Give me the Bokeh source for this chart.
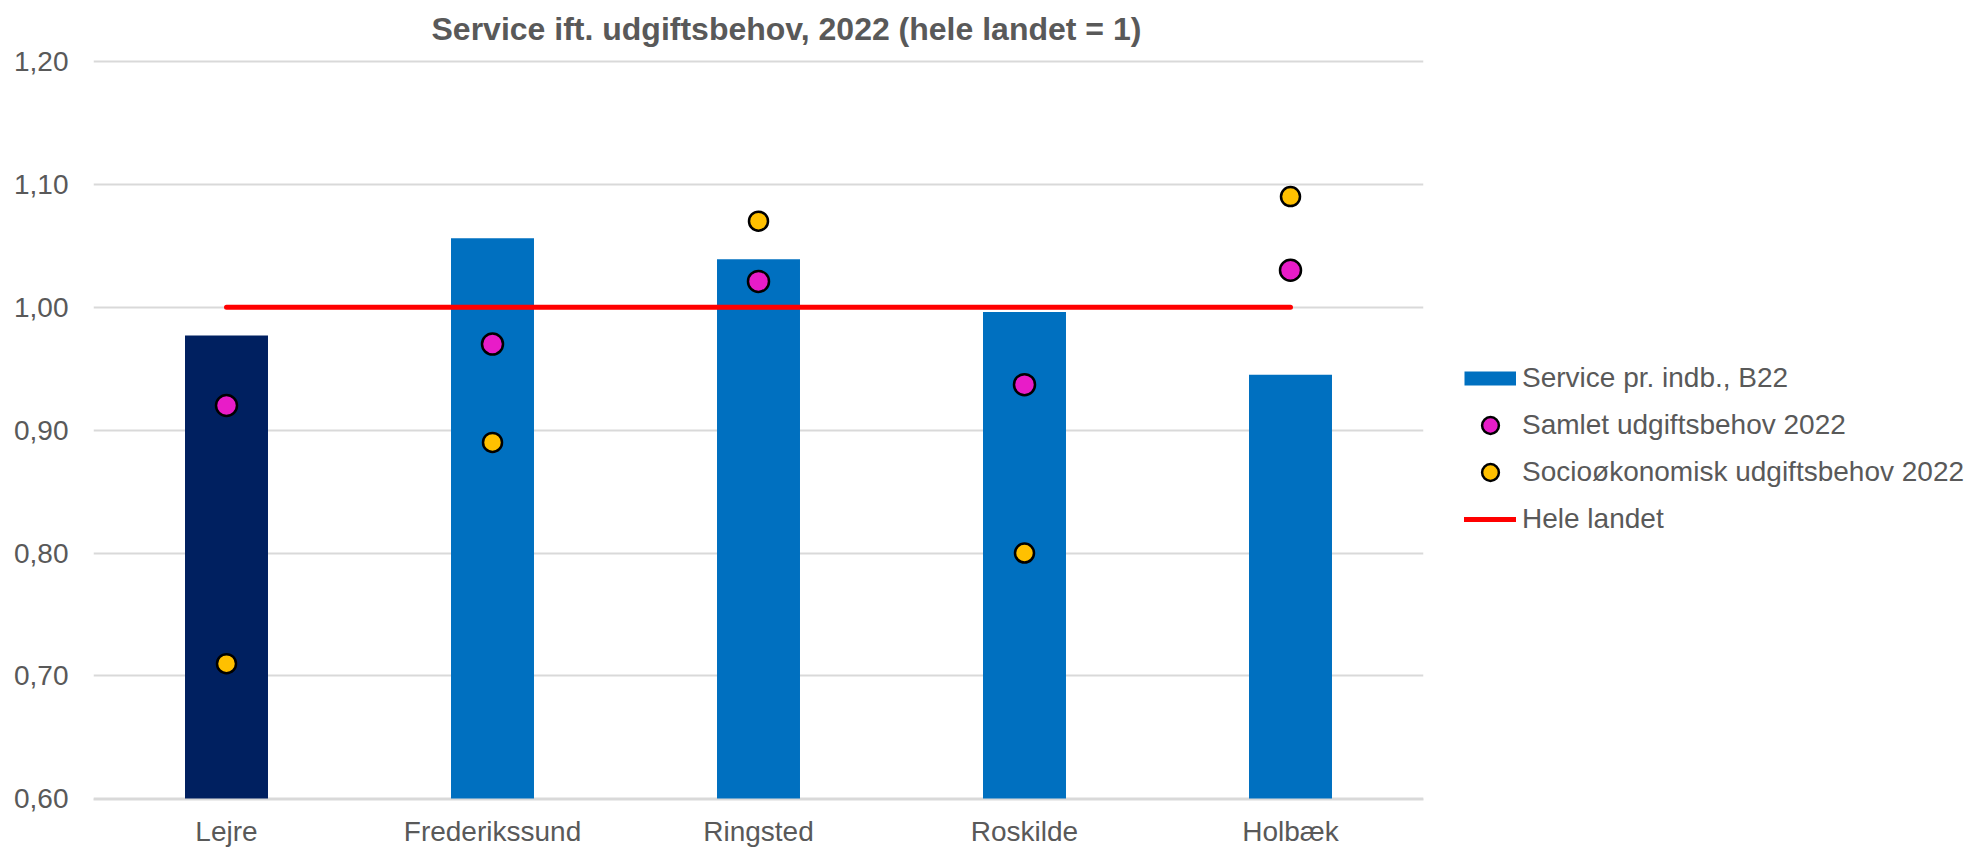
from bokeh.plotting import figure
from bokeh.models import (Range1d, FactorRange, ColumnDataSource, Legend, LegendItem,
                          CustomJSTickFormatter, FixedTicker)
from bokeh.embed import file_html
from bokeh.resources import INLINE

# ---- data ----
kommuner = ["Lejre", "Frederikssund", "Ringsted", "Roskilde", "Holbæk"]
service = [0.977, 1.056, 1.039, 0.996, 0.945]          # Service pr. indb., B22
samlet = [0.920, 0.970, 1.021, 0.937, 1.030]           # Samlet udgiftsbehov 2022
socio = [0.710, 0.890, 1.070, 0.800, 1.090]            # Socioøkonomisk udgiftsbehov 2022
hele_landet = [1.00, 1.00, 1.00, 1.00, 1.00]           # Hele landet
bar_colors = ["#002060", "#0070C0", "#0070C0", "#0070C0", "#0070C0"]
y_ticks = [0.60, 0.70, 0.80, 0.90, 1.00, 1.10, 1.20]

FONT = "Liberation Sans"
GREY = "#595959"

src = ColumnDataSource(dict(k=kommuner, service=service, samlet=samlet, socio=socio,
                            hele=hele_landet, color=bar_colors))

p = figure(frame_width=1330, frame_height=740, output_backend="svg", toolbar_location=None,
           x_range=FactorRange(factors=kommuner, range_padding=0),
           y_range=Range1d(y_ticks[0] - 0.0005, y_ticks[-1] + 0.0015),
           min_border_left=93, min_border_right=545, min_border_top=0, min_border_bottom=0)
p.outline_line_color = None
p.background_fill_color = "white"
p.border_fill_color = "white"

# title
p.title.text = "Service ift. udgiftsbehov, 2022 (hele landet = 1)"
p.title.align = "left"
p.title.offset = 338
p.title.vertical_align = "top"
p.title.standoff = 21
p.title.text_font = FONT
p.title.text_font_size = "32px"
p.title.text_font_style = "bold"
p.title.text_color = GREY

bars = p.vbar(x="k", top="service", bottom=y_ticks[0], width=0.312, fill_color="color",
              line_color=None, source=src)
line = p.line(x="k", y="hele", line_color="#FF0000", line_width=5, line_cap="round", source=src)
pink = p.scatter(x="k", y="samlet", marker="circle", size=21, fill_color="#E81CC8",
                 line_color="black", line_width=2.5, source=src)
yellow = p.scatter(x="k", y="socio", marker="circle", size=19, fill_color="#FFC000",
                   line_color="black", line_width=2.5, source=src)
# legend key for the bar series (a flat blue swatch; its single point has no value, so nothing is drawn in the plot)
bar_key = p.line(x=[kommuner[0]], y=[float("nan")], line_color="#0070C0", line_width=14,
                 line_cap="butt")

# axes
p.xgrid.visible = False
p.xaxis.axis_line_color = "#D9D9D9"
p.xaxis.axis_line_width = 2
p.xaxis.major_tick_line_color = None
p.xaxis.minor_tick_line_color = None
p.xaxis.major_tick_out = 0
p.xaxis.major_label_standoff = 16
p.xaxis.major_label_text_font = FONT
p.xaxis.major_label_text_font_size = "28px"
p.xaxis.major_label_text_color = GREY

p.yaxis.ticker = FixedTicker(ticks=y_ticks)
p.yaxis.formatter = CustomJSTickFormatter(code="return tick.toFixed(2).replace('.', ',');")
p.yaxis.axis_line_color = None
p.yaxis.major_tick_line_color = None
p.yaxis.minor_tick_line_color = None
p.yaxis.major_tick_out = 0
p.yaxis.major_label_standoff = 25
p.yaxis.major_label_text_font = FONT
p.yaxis.major_label_text_font_size = "28px"
p.yaxis.major_label_text_color = GREY
p.ygrid.grid_line_color = "#D9D9D9"
p.ygrid.grid_line_width = 2

# legend
leg = Legend(items=[LegendItem(label="Service pr. indb., B22", renderers=[bar_key], index=0),
                    LegendItem(label="Samlet udgiftsbehov 2022", renderers=[pink]),
                    LegendItem(label="Socioøkonomisk udgiftsbehov 2022", renderers=[yellow]),
                    LegendItem(label="Hele landet", renderers=[line])],
             location=(41, 259), glyph_width=52, glyph_height=42, label_standoff=6,
             padding=0, margin=0, spacing=5,
             border_line_color=None, background_fill_alpha=0,
             label_text_font=FONT, label_text_font_size="28px", label_text_color=GREY)
p.add_layout(leg, "right")

open("out.html", "w").write(file_html(p, INLINE))
